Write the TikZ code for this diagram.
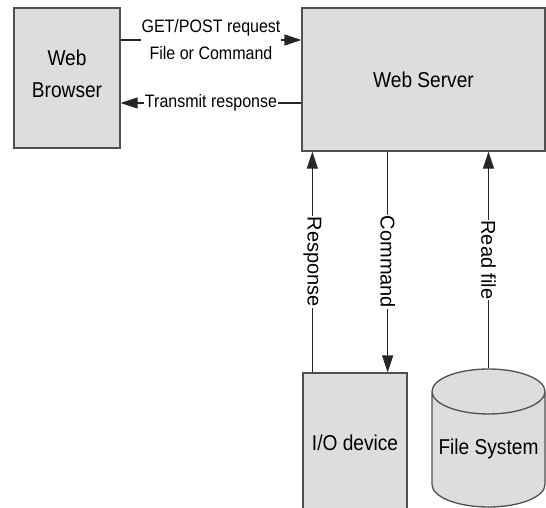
\documentclass[tikz,border=0pt]{standalone}
\usepackage{fontspec}
\setmainfont{Liberation Sans}[FakeStretch=0.89]
\newfontfamily\vertfont{Liberation Sans}
\usetikzlibrary{arrows.meta,shapes.geometric}
\definecolor{boxfill}{HTML}{DDDDDD}
\definecolor{boxline}{HTML}{505050}

\begin{document}
\begin{tikzpicture}[x=1pt,y=-1pt,>={Triangle[length=17pt,width=11pt]},line width=1.3pt]
  \tikzstyle{block}=[rectangle,draw=boxline,fill=boxfill,inner sep=0pt,
                     font=\fontsize{21.5}{26}\selectfont,align=center]
  \tikzstyle{disk}=[cylinder,shape border rotate=90,draw=boxline,fill=boxfill,
                    inner sep=0pt,aspect=0.45,font=\fontsize{21.5}{26}\selectfont]
  \tikzstyle{link}=[draw=black!85]
  \tikzstyle{msg}=[fill=white,inner xsep=1pt,inner ysep=0pt,align=center,
                   font=\fontsize{18}{27}\selectfont]
  \tikzstyle{vmsg}=[fill=white,inner xsep=1pt,inner ysep=0pt,rotate=-90,
                    font=\vertfont\fontsize{20}{24}\selectfont]

  \useasboundingbox (0,0) rectangle (546,508);
  \clip (0,0) rectangle (546,508);

  \node [block,minimum width=106pt,minimum height=140pt,
         font=\fontsize{21.5}{32}\selectfont,text depth=8pt] (web) at (67,78) {Web\\Browser};
  \node [block,minimum width=243pt,minimum height=143pt] (srv) at (423.5,79.5) {Web Server};
  \node [block,minimum width=104pt,minimum height=140pt] (io) at (355,443) {I/O device};
  \node [disk,minimum width=113pt,minimum height=138pt,anchor=shape center,
         text depth=6pt] (fs) at (488.5,438) {File System};

  % browser <-> server
  \draw [link,->] (web.east |- 0,40) -- node [msg] {GET/POST request\\File or Command} (srv.west |- 0,40);
  \draw [link,->] (srv.west |- 0,103) -- node [msg] {Transmit response} (web.east |- 0,103);

  % server <-> devices
  \draw [link,->] ([xshift=10pt]io.north west) -- node [vmsg] {Response} ([xshift=10pt]io.north west |- srv.south);
  \draw [link,->] ([xshift=-20pt]io.north east |- srv.south) -- node [vmsg] {Command} ([xshift=-20pt]io.north east);
  \draw [link,->] (fs.top) -- node [vmsg] {Read file} (fs.top |- srv.south);
\end{tikzpicture}
\end{document}
